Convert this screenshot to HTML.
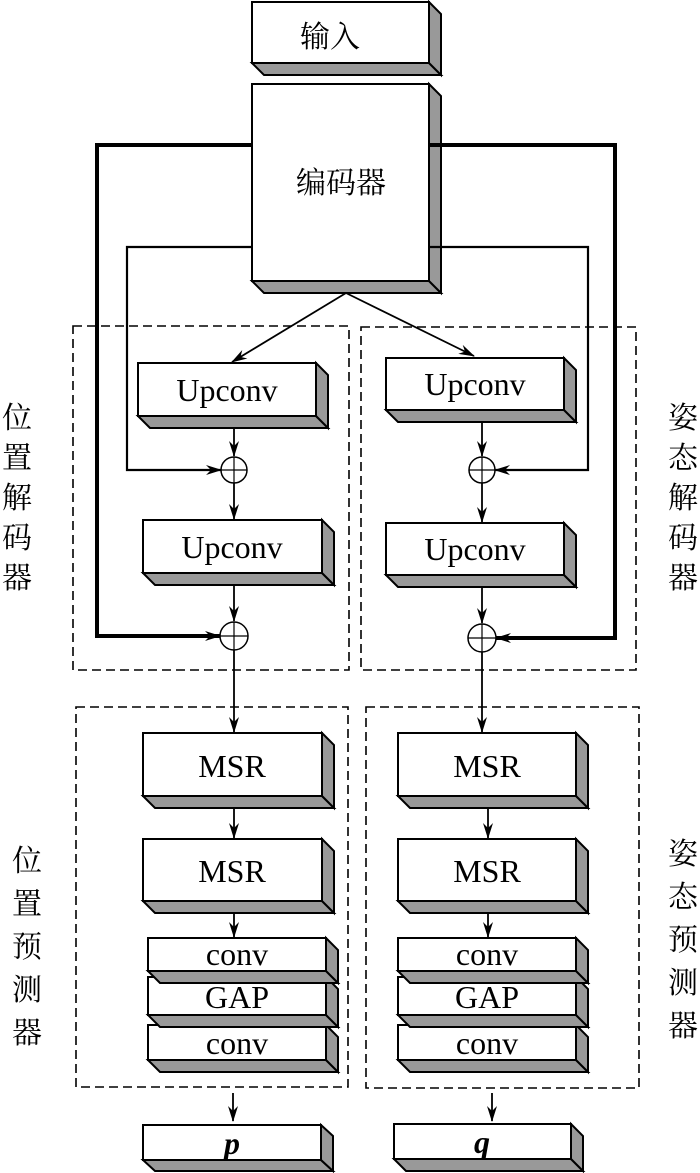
<!DOCTYPE html>
<html><head><meta charset="utf-8"><style>
html,body{margin:0;padding:0;background:#fff}
svg{display:block}
text{font-family:"Liberation Serif","Noto Serif CJK SC",serif;fill:#000}
.cj{font-family:"Noto Serif CJK SC","Noto Sans CJK SC",serif;font-size:30px}
</style></head><body>
<svg width="700" height="1173" viewBox="0 0 700 1173" xmlns="http://www.w3.org/2000/svg">
<defs>
<marker id="a" markerWidth="16" markerHeight="10" refX="15" refY="5" orient="auto" markerUnits="userSpaceOnUse">
<path d="M0,0 L16,5 L0,10 L5,5 Z" fill="#000"/></marker>
</defs>
<g stroke="#000" stroke-width="2" stroke-linejoin="miter">
<polygon points="252,63 264,75 441,75 429,63" fill="#999"/><polygon points="429,2 441,14 441,75 429,63" fill="#999"/><rect x="252" y="2" width="177" height="61" fill="#fff"/>
<polygon points="252,281 264,293 441,293 429,281" fill="#999"/><polygon points="429,84 441,96 441,293 429,281" fill="#999"/><rect x="252" y="84" width="177" height="197" fill="#fff"/>
<polygon points="138,416 150,428 328,428 316,416" fill="#999"/><polygon points="316,363 328,375 328,428 316,416" fill="#999"/><rect x="138" y="363" width="178" height="53" fill="#fff"/>
<polygon points="143,573 155,585 334,585 322,573" fill="#999"/><polygon points="322,520 334,532 334,585 322,573" fill="#999"/><rect x="143" y="520" width="179" height="53" fill="#fff"/>
<polygon points="386,410 398,422 576,422 564,410" fill="#999"/><polygon points="564,358 576,370 576,422 564,410" fill="#999"/><rect x="386" y="358" width="178" height="52" fill="#fff"/>
<polygon points="386,575 398,587 576,587 564,575" fill="#999"/><polygon points="564,523 576,535 576,587 564,575" fill="#999"/><rect x="386" y="523" width="178" height="52" fill="#fff"/>
<polygon points="143,796 155,808 334,808 322,796" fill="#999"/><polygon points="322,733 334,745 334,808 322,796" fill="#999"/><rect x="143" y="733" width="179" height="63" fill="#fff"/>
<polygon points="143,901 155,913 334,913 322,901" fill="#999"/><polygon points="322,839 334,851 334,913 322,901" fill="#999"/><rect x="143" y="839" width="179" height="62" fill="#fff"/>
<polygon points="398,796 410,808 588,808 576,796" fill="#999"/><polygon points="576,733 588,745 588,808 576,796" fill="#999"/><rect x="398" y="733" width="178" height="63" fill="#fff"/>
<polygon points="398,901 410,913 588,913 576,901" fill="#999"/><polygon points="576,839 588,851 588,913 576,901" fill="#999"/><rect x="398" y="839" width="178" height="62" fill="#fff"/>
<polygon points="148,1060 160,1072 338,1072 326,1060" fill="#999"/><polygon points="326,1025 338,1037 338,1072 326,1060" fill="#999"/><rect x="148" y="1025" width="178" height="35" fill="#fff"/>
<polygon points="148,1015 160,1027 338,1027 326,1015" fill="#999"/><polygon points="326,977 338,989 338,1027 326,1015" fill="#999"/><rect x="148" y="977" width="178" height="38" fill="#fff"/>
<polygon points="148,971 160,983 338,983 326,971" fill="#999"/><polygon points="326,938 338,950 338,983 326,971" fill="#999"/><rect x="148" y="938" width="178" height="33" fill="#fff"/>
<polygon points="398,1060 410,1072 588,1072 576,1060" fill="#999"/><polygon points="576,1025 588,1037 588,1072 576,1060" fill="#999"/><rect x="398" y="1025" width="178" height="35" fill="#fff"/>
<polygon points="398,1015 410,1027 588,1027 576,1015" fill="#999"/><polygon points="576,977 588,989 588,1027 576,1015" fill="#999"/><rect x="398" y="977" width="178" height="38" fill="#fff"/>
<polygon points="398,971 410,983 588,983 576,971" fill="#999"/><polygon points="576,938 588,950 588,983 576,971" fill="#999"/><rect x="398" y="938" width="178" height="33" fill="#fff"/>
<polygon points="143,1160 155,1171 333,1171 321,1160" fill="#999"/><polygon points="321,1125 333,1136 333,1171 321,1160" fill="#999"/><rect x="143" y="1125" width="178" height="35" fill="#fff"/>
<polygon points="394,1159 406,1171 583,1171 571,1159" fill="#999"/><polygon points="571,1124 583,1136 583,1171 571,1159" fill="#999"/><rect x="394" y="1124" width="177" height="35" fill="#fff"/>
</g>
<g fill="none" stroke="#000" stroke-width="1.6" stroke-dasharray="9,5">
<rect x="73" y="326" width="276" height="344"/>
<rect x="361" y="327" width="275" height="343"/>
<rect x="76" y="707" width="272" height="380"/>
<rect x="366" y="707" width="273" height="381"/>
</g>
<g fill="none" stroke="#000">
<polyline points="252,145 97,145 97,636 220,636" stroke-width="4" marker-end="url(#a)"/>
<polyline points="429,145 615,145 615,638 496,638" stroke-width="4" marker-end="url(#a)"/>
<polyline points="252,247 127,247 127,470 221,470" stroke-width="2.2" marker-end="url(#a)"/>
<polyline points="429,247 588,247 588,470 495,470" stroke-width="2.2" marker-end="url(#a)"/>
<line x1="346" y1="293" x2="232" y2="362" stroke-width="1.8" marker-end="url(#a)"/>
<line x1="346" y1="293" x2="474" y2="356" stroke-width="1.8" marker-end="url(#a)"/>
<g stroke-width="1.8">
<line x1="234" y1="428" x2="234" y2="456" marker-end="url(#a)"/>
<line x1="234" y1="483" x2="234" y2="519" marker-end="url(#a)"/>
<line x1="234" y1="585" x2="234" y2="621" marker-end="url(#a)"/>
<line x1="234" y1="650" x2="234" y2="732" marker-end="url(#a)"/>
<line x1="482" y1="422" x2="482" y2="456" marker-end="url(#a)"/>
<line x1="482" y1="483" x2="482" y2="522" marker-end="url(#a)"/>
<line x1="482" y1="587" x2="482" y2="623" marker-end="url(#a)"/>
<line x1="482" y1="652" x2="482" y2="732" marker-end="url(#a)"/>
<line x1="234" y1="808" x2="234" y2="838" marker-end="url(#a)"/>
<line x1="488" y1="808" x2="488" y2="838" marker-end="url(#a)"/>
<line x1="234" y1="913" x2="234" y2="937" marker-end="url(#a)"/>
<line x1="488" y1="913" x2="488" y2="937" marker-end="url(#a)"/>
<line x1="233" y1="1093" x2="233" y2="1121" marker-end="url(#a)"/>
<line x1="492" y1="1093" x2="492" y2="1121" marker-end="url(#a)"/>
</g>
<g stroke-width="1.5" fill="#fff">
<circle cx="234" cy="470" r="13"/><circle cx="234" cy="636" r="14"/>
<circle cx="482" cy="470" r="13"/><circle cx="482" cy="638" r="14"/>
</g>
<g stroke-width="1.2">
<path d="M221,470H247M234,457V483"/><path d="M220,636H248M234,622V650"/>
<path d="M469,470H495M482,457V483"/><path d="M468,638H496M482,624V652"/>
</g>
</g>
<g text-anchor="middle">
<text x="330" y="47" class="cj">输入</text>
<text x="341" y="193" class="cj">编码器</text>
<g font-size="32">
<text x="227" y="401">Upconv</text>
<text x="232" y="558">Upconv</text>
<text x="475" y="395">Upconv</text>
<text x="475" y="560">Upconv</text>
<text x="232" y="777">MSR</text>
<text x="232" y="882">MSR</text>
<text x="487" y="777">MSR</text>
<text x="487" y="882">MSR</text>
<text x="237" y="965">conv</text>
<text x="237" y="1008">GAP</text>
<text x="237" y="1054">conv</text>
<text x="487" y="965">conv</text>
<text x="487" y="1008">GAP</text>
<text x="487" y="1054">conv</text>
<text x="232" y="1154" font-style="italic" font-weight="bold">p</text>
<text x="482" y="1153" font-style="italic" font-weight="bold">q</text>
</g>
<g class="cj">
<text x="17" y="428">位</text><text x="17" y="468">置</text><text x="17" y="508">解</text><text x="17" y="548">码</text><text x="17" y="588">器</text>
<text x="683" y="428">姿</text><text x="683" y="468">态</text><text x="683" y="508">解</text><text x="683" y="548">码</text><text x="683" y="588">器</text>
<text x="27" y="871">位</text><text x="27" y="914">置</text><text x="27" y="957">预</text><text x="27" y="1000">测</text><text x="27" y="1043">器</text>
<text x="683" y="864">姿</text><text x="683" y="907">态</text><text x="683" y="950">预</text><text x="683" y="993">测</text><text x="683" y="1036">器</text>
</g>
</g>
</svg>
</body></html>
